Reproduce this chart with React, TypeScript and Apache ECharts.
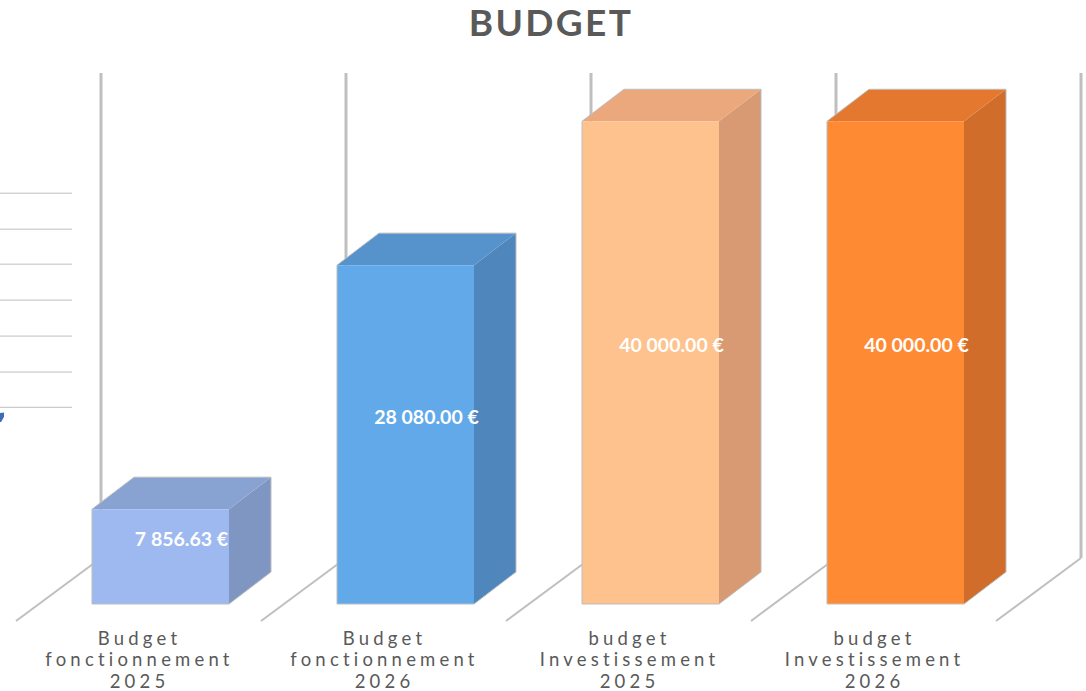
import React, { useEffect, useRef } from "react";
import * as echarts from "echarts";

const titleText = "BUDGET";
const categories = [
  "Budget\nfonctionnement\n2025",
  "Budget\nfonctionnement\n2026",
  "budget\nInvestissement\n2025",
  "budget\nInvestissement\n2026",
];
const budgetValues = [7856.63, 28080, 40000, 40000];
const valueLabels = ["7 856.63 €", "28 080.00 €", "40 000.00 €", "40 000.00 €"];
const strayGridValues = [34040, 31060, 28160, 25180, 22200, 19220, 16300];
const frontColors = ["#9DB9F0", "#62A9EA", "#FEC28E", "#FF8A34"];
const topColors = ["#88A2D2", "#5693CD", "#EAA87C", "#E3782E"];
const sideColors = ["#7F96C3", "#4F86BB", "#D79A72", "#D06D2A"];

const GRID_LEFT = 16;
const GRID_WIDTH = 980;
const GRID_TOP = 73;
const GRID_BOTTOM = 87;
const AXIS_MAX = 44000;
const BAR_OFFSET = -46.5;
const BAR_WIDTH = 137;
const DEPTH_X = 42;
const DEPTH_Y = 32;
const WALL_X = 85;
const WALL_Y = 63;
const WALL_FLOOR_DROP = 17;

const WALL_COLOR = "#BFBFBF";
const wallLines = (x: number, base: number, top: number) => {
  const floor = base + WALL_FLOOR_DROP;
  return [
    {
      type: "line",
      shape: { x1: x, y1: floor, x2: x + WALL_X, y2: floor - WALL_Y },
      style: { stroke: WALL_COLOR, lineWidth: 2 },
    },
    {
      type: "line",
      shape: { x1: x + WALL_X, y1: floor - WALL_Y, x2: x + WALL_X, y2: top },
      style: { stroke: WALL_COLOR, lineWidth: 3 },
    },
  ];
};

const renderWalls = (params: any, api: any) => {
  const index = api.value(0);
  const band = api.size([1, 0])[0];
  const center = api.coord([index, 0])[0];
  const base = api.coord([index, 0])[1];
  const top = api.coord([index, AXIS_MAX])[1];
  const left = center - band / 2;
  const children: any[] = wallLines(left, base, top);
  if (index === categories.length - 1) children.push(...wallLines(left + band, base, top));
  return { type: "group", children };
};

const renderStray = (params: any, api: any) => {
  const y = api.coord([0, api.value(1)])[1];
  return {
    type: "line",
    shape: { x1: 0, y1: y, x2: 72, y2: y },
    style: { stroke: "#BFBFBF", lineWidth: 1 },
  };
};

const renderBar = (params: any, api: any) => {
  const index = api.value(0);
  const value = api.value(1);
  const center = api.coord([index, 0])[0];
  const base = api.coord([index, 0])[1];
  const top = api.coord([index, value])[1];
  const x0 = center + BAR_OFFSET;
  const x1 = x0 + BAR_WIDTH;
  return {
    type: "group",
    children: [
      {
        type: "polygon",
        shape: { points: [[x1, top], [x1 + DEPTH_X, top - DEPTH_Y], [x1 + DEPTH_X, base - DEPTH_Y], [x1, base]] },
        style: { fill: sideColors[index] },
      },
      {
        type: "polygon",
        shape: { points: [[x0, top], [x0 + DEPTH_X, top - DEPTH_Y], [x1 + DEPTH_X, top - DEPTH_Y], [x1, top]] },
        style: { fill: topColors[index] },
      },
      {
        type: "rect",
        shape: { x: x0, y: top, width: BAR_WIDTH, height: base - top },
        style: { fill: frontColors[index] },
      },
      {
        type: "polygon",
        shape: {
          points: [
            [x0, top],
            [x0 + DEPTH_X, top - DEPTH_Y],
            [x1 + DEPTH_X, top - DEPTH_Y],
            [x1 + DEPTH_X, base - DEPTH_Y],
            [x1, base],
            [x0, base],
          ],
        },
        style: { fill: "none", stroke: "#BDBDBD", lineWidth: 1 },
      },
      {
        type: "text",
        x: x0 + BAR_WIDTH / 2 + 21,
        y: (base + top) / 2 - 18.5,
        style: {
          text: valueLabels[index],
          fill: "#FFFFFF",
          font: "bold 19.5px Lato",
          align: "center",
          verticalAlign: "middle",
        },
      },
    ],
  };
};

export default function App() {
  const ref = useRef<HTMLDivElement>(null);
  useEffect(() => {
    document.body.style.margin = "0";
    const chart = echarts.init(ref.current!, undefined, { renderer: "svg" });
    chart.setOption({
      animation: false,
      backgroundColor: "#FFFFFF",
      title: {
        text: titleText,
        left: 551,
        top: 3,
        padding: 0,
        textAlign: "center",
        textStyle: { fontFamily: "Lato", fontSize: 37, lineHeight: 37, fontWeight: "bold", color: "#595959" },
      },
      grid: { left: GRID_LEFT, width: GRID_WIDTH, top: GRID_TOP, bottom: GRID_BOTTOM, outerBoundsMode: "none" },
      xAxis: {
        type: "category",
        data: categories,
        axisLine: { show: false },
        axisTick: { show: false },
        axisLabel: {
          interval: 0,
          margin: 23,
          fontFamily: "Lato",
          fontSize: 18.5,
          lineHeight: 21.5,
          color: "#595959",
          padding: [0, 0, 0, 2],
        },
      },
      yAxis: {
        type: "value",
        min: 0,
        max: AXIS_MAX,
        interval: 4000,
        axisLine: { show: false },
        axisTick: { show: false },
        axisLabel: { show: false },
        splitLine: { show: false },
      },
      graphic: [
        {
          type: "polygon",
          shape: { points: [[0, 413], [4, 412.5], [4, 417], [1, 422], [0, 422]] },
          style: { fill: "#3F6DB5" },
        },
      ],
      series: [
        {
          type: "custom",
          renderItem: renderStray,
          data: strayGridValues.map((v) => [0, v]),
          z: 1,
          silent: true,
          clip: false,
        },
        {
          type: "custom",
          renderItem: renderWalls,
          data: categories.map((_, i) => [i, 0]),
          z: 1,
          silent: true,
          clip: false,
        },
        {
          type: "custom",
          renderItem: renderBar,
          data: budgetValues.map((v, i) => [i, v]),
          z: 2,
          clip: false,
        },
      ],
    });
    return () => chart.dispose();
  }, []);
  return (
    <>
      <style>{`svg text[style*="18.5px"]{letter-spacing:4.2px} svg text[style*="37px"]{letter-spacing:2.4px}`}</style>
      <div ref={ref} style={{ width: 1086, height: 691, overflow: "hidden" }} />
    </>
  );
}
